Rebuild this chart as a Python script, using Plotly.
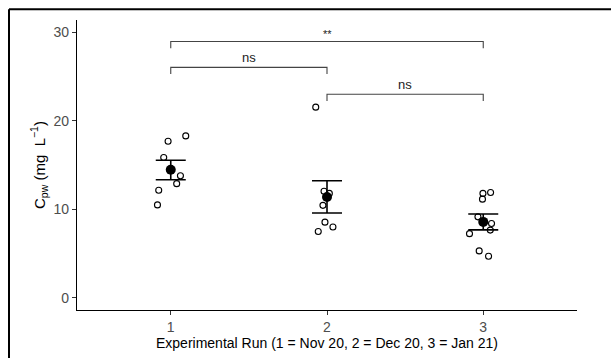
import plotly.graph_objects as go

# ---- data ----
run1_vals = [17.7, 18.3, 15.85, 13.8, 12.9, 12.15, 10.5]
run1_jit = [-0.017, 0.096, -0.045, 0.062, 0.038, -0.077, -0.085]
run2_vals = [21.55, 12.05, 11.8, 10.45, 8.55, 8.0, 7.5]
run2_jit = [-0.072, -0.019, 0.015, -0.026, -0.013, 0.038, -0.056]
run3_vals = [11.8, 11.9, 11.15, 9.15, 8.4, 7.65, 7.25, 5.3, 4.7]
run3_jit = [-0.002, 0.047, -0.005, -0.034, 0.053, 0.045, -0.088, -0.026, 0.034]

runs = [1, 2, 3]
means = [14.47, 11.4, 8.58]
err_hi = [15.55, 13.23, 9.47]
err_lo = [13.35, 9.58, 7.68]

tick_vals_y = [0, 10, 20, 30]
brackets = [  # (x1, x2, y, label)
    (1, 3, 28.97, "**"),
    (1, 2, 26.05, "ns"),
    (2, 3, 23.0, "ns"),
]
bracket_drop = 0.75

fig = go.Figure()

xs, ys = [], []
for r, vals, jit in [(1, run1_vals, run1_jit), (2, run2_vals, run2_jit), (3, run3_vals, run3_jit)]:
    xs += [r + j for j in jit]
    ys += vals

fig.add_trace(go.Scatter(
    x=xs, y=ys, mode="markers",
    marker=dict(symbol="circle-open", size=6, color="black", line=dict(width=1.1, color="black")),
    hoverinfo="skip", showlegend=False))

fig.add_trace(go.Scatter(
    x=runs, y=means, mode="markers",
    marker=dict(symbol="circle", size=10, color="black"),
    error_y=dict(type="data", symmetric=False,
                 array=[h - m for h, m in zip(err_hi, means)],
                 arrayminus=[m - l for m, l in zip(means, err_lo)],
                 color="black", thickness=1.6, width=15),
    showlegend=False))

for x1, x2, y, lab in brackets:
    fig.add_trace(go.Scatter(
        x=[x1, x1, x2, x2], y=[y - bracket_drop, y, y, y - bracket_drop],
        mode="lines", line=dict(color="#444444", width=1.1),
        hoverinfo="skip", showlegend=False))
    fig.add_annotation(x=(x1 + x2) / 2, y=y, text=lab, showarrow=False,
                       yanchor="bottom", yshift=0,
                       font=dict(family="Liberation Sans, Arial", size=13 if lab == "ns" else 11, color="#222222"))

# image frame (top and left edges)
fig.add_shape(type="line", xref="paper", yref="paper", x0=-0.136, x1=-0.136, y0=-0.3, y1=1.0375,
              line=dict(color="black", width=2))
fig.add_shape(type="line", xref="paper", yref="paper", x0=-0.136, x1=1.2, y0=1.0375, y1=1.0375,
              line=dict(color="black", width=2))

fig.update_layout(
    width=611, height=358,
    margin=dict(l=77, r=34, t=20, b=45),
    paper_bgcolor="white", plot_bgcolor="white",
    font=dict(family="Liberation Sans, Arial", color="black"),
)
fig.update_xaxes(
    range=[0.4, 3.6], tickvals=runs, ticktext=[str(r) for r in runs],
    showline=True, linecolor="black", linewidth=1.3, showgrid=False, zeroline=False,
    ticks="outside", ticklen=4, tickcolor="#333333", tickwidth=1,
    tickfont=dict(size=14, color="#4d4d4d"),
    title=dict(text="Experimental Run (1 = Nov 20, 2 = Dec 20, 3 = Jan 21)",
               font=dict(size=14, color="black"), standoff=1),
)
fig.update_yaxes(
    range=[-1.38, 31.4], tickvals=tick_vals_y,
    showline=True, linecolor="black", linewidth=1.3, showgrid=False, zeroline=False,
    ticks="outside", ticklen=4, tickcolor="#333333", tickwidth=1,
    tickfont=dict(size=14, color="#4d4d4d"),
    title=dict(text="C<sub>pw</sub> (mg  L<sup>−1</sup>)", font=dict(size=15, color="black"), standoff=4),
)

fig.write_html("out.html")
